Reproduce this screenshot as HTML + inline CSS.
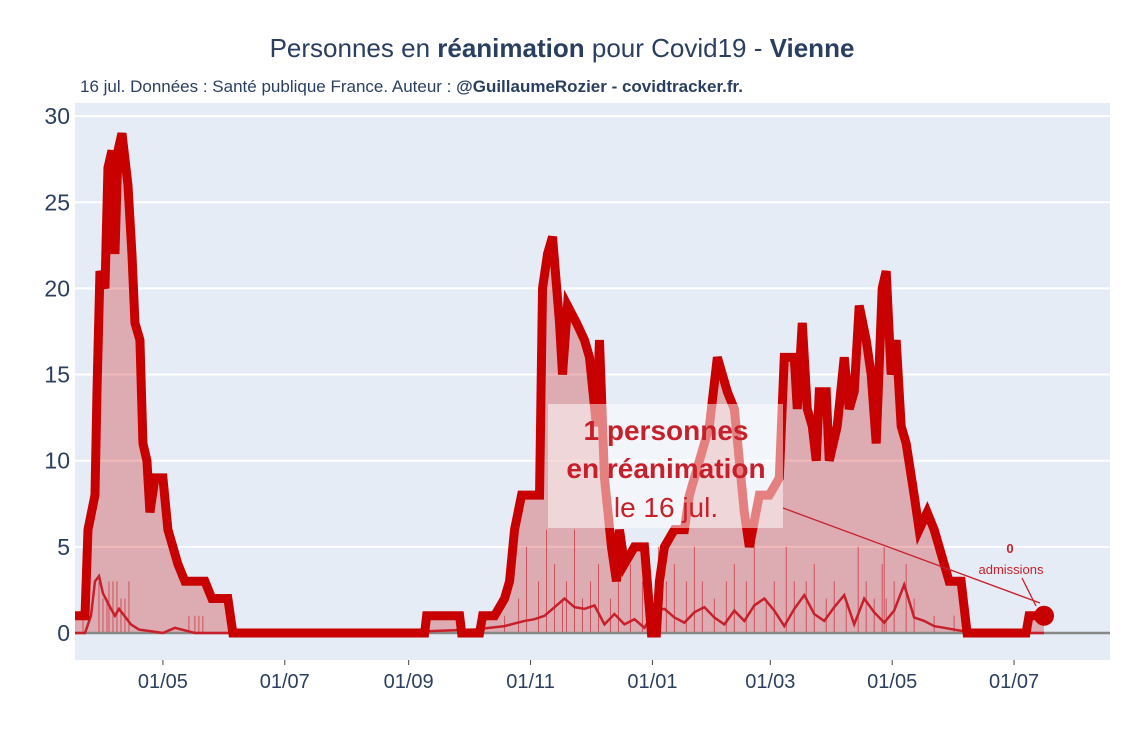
<!DOCTYPE html>
<html><head><meta charset="utf-8"><style>
body{margin:0;background:#fff;width:1125px;height:750px;overflow:hidden;font-family:"Liberation Sans",sans-serif}
svg text{font-family:"Liberation Sans","DejaVu Sans",sans-serif}
</style></head><body>
<svg id="chart" width="1125" height="750" xmlns="http://www.w3.org/2000/svg">
<rect x="75" y="103" width="1035" height="557" fill="#e5ecf6"/>
<g id="grid"></g>
<g id="series"></g>
<g id="axes"></g>
<text x="562" y="57" text-anchor="middle" font-size="26" fill="#2a3f5f">Personnes en <tspan font-weight="bold">réanimation</tspan> pour Covid19 - <tspan font-weight="bold">Vienne</tspan></text>
<text x="80" y="92" font-size="17" fill="#2a3f5f">16 jul. Données : Santé publique France. Auteur : <tspan font-weight="bold">@GuillaumeRozier - covidtracker.fr.</tspan></text>
</svg>
<script>
const days=[
0,5,6.5,10,11,12.5,15,16.5,18.5,20,21.5,23.5,26.5,28.5,30,32.5,34,36,37.5,40,44,46.5,49,51.5,55,65,68.5,76.5,79,
175,176,192.5,193.5,202.5,204,210,215,217.5,220,223.5,232.5,234,236.5,239,242.5,244,246.5,251,255,257.5,261,262.5,265,268.5,271,272.5,275,280,285,288.5,291,
292.5,295,300,305,307.5,312.5,317.5,321.5,326.5,330,332.5,335,337.5,342.5,347.5,352.5,355,360,361.5,364,366.5,369,371,372.5,376,377.5,381.5,385,387.5,390,392.5,396,398.5,401,404,406,408.5,411,413.5,416,420,422.5,426.5,430,437.5,443.5,446.5,476,477.5,485];
const icu=[
1,1,6,8,14,21,20,27,28,22,28,29,26,22,18,17,11,10,7,9,9,6,5,4,3,3,2,2,0,
0,1,1,0,0,1,1,2,3,6,8,8,20,22,23,18,15,19,18,17,16,12,17,9,5,3,6,4,5,5,0,0,
3,5,6,6,8,10,12,16,14,13,10,7,5,8,8,9,16,16,13,18,13,12,10,14,14,10,12,16,13,14,19,17,15,11,20,21,15,17,12,11,8,6,7,6,3,3,0,0,1,1];
const admDays=[0,5,8,10,12,14,18,20,22,24,28,32,38,44,50,60,100,176,200,215,225,230,235,240,245,250,255,260,265,270,275,280,285,290,295,300,305,310,315,320,325,330,335,340,345,350,355,360,365,370,375,380,385,390,395,400,405,410,415,420,425,430,440,450,485];
const admVals=[0,0,1,3,3.3,2.3,1.4,1,1.4,1.1,0.5,0.2,0.1,0,0.3,0,0,0.1,0.2,0.4,0.7,0.8,1,1.5,2,1.5,1.4,1.6,0.5,1.1,0.5,0.8,0.3,1.3,1.4,0.9,0.6,1.2,1.5,0.9,0.5,1.3,0.7,1.6,2,1.3,0.4,1.4,2.2,1.1,0.7,1.5,2.2,0.5,2,1.2,0.6,1.3,2.8,0.9,0.7,0.4,0.2,0,0];
const barDays=[4,12,14,16,17,19,21,23,25,27,57,60,62,64,215,222,226,232,236,240,244,246,250,254,258,262,268,272,278,284,292,296,300,306,310,314,320,326,330,336,340,346,350,356,360,366,370,376,380,386,392,396,400,404,405,406,410,416,420,430,440,445];
const barVals=[2,3,2,2,3,3,3,2,2,3,1,1,1,1,1,2,5,3,6,4,2,3,6,2,3,4,2,3,4,3,5,3,4,3,5,3,2,3,4,3,6,2,3,5,3,3,4,2,3,2,5,3,2,4,5,2,3,4,2,1,1,1];
const yTicks=[0,5,10,15,20,25,30];
const xTickDays=[44,105,167,228,289,348,409,470];
const xTickLabels=["01/05","01/07","01/09","01/11","01/01","01/03","01/05","01/07"];
const X=d=>75+d*1.998, Y=v=>633-v*17.23;
const NS="http://www.w3.org/2000/svg";
function mk(p,t,a){const e=document.createElementNS(NS,t);for(const k in a)e.setAttribute(k,a[k]);p.appendChild(e);return e;}
const grid=document.getElementById('grid'),ser=document.getElementById('series'),ax=document.getElementById('axes'),svg=document.getElementById('chart');
yTicks.forEach(v=>{
 if(v>0){const g=mk(grid,'line',{x1:75,x2:1110,y1:Y(v),y2:Y(v),stroke:'#fff','stroke-width':2});
 
 }
 const t=mk(ax,'text',{x:70,y:Y(v)+8,'text-anchor':'end','font-size':23,fill:'#2a3f5f'});t.textContent=v;
 
 
});
xTickDays.forEach((d,i)=>{
 const l=mk(ax,'line',{x1:X(d),x2:X(d),y1:660,y2:665,stroke:'#444','stroke-width':1});
 
 
 const t=mk(ax,'text',{x:X(d),y:688,'text-anchor':'middle','font-size':20,fill:'#2a3f5f'});t.textContent=xTickLabels[i];
 
 
});
const n=Math.min(days.length,icu.length);
let pts=[];for(let i=0;i<n;i++)pts.push(X(days[i])+','+Y(icu[i]));
const area=mk(ser,'polygon',{points:X(days[0])+','+Y(0)+' '+pts.join(' ')+' '+X(days[n-1])+','+Y(0),fill:'rgba(200,0,0,0.27)'});


barDays.forEach((d,i)=>{const b=mk(ser,'line',{x1:X(d),x2:X(d),y1:Y(0),y2:Y(barVals[i]),stroke:'rgba(200,20,30,0.6)','stroke-width':1});
 
 });
const zl=mk(ser,'line',{x1:75,x2:1110,y1:Y(0),y2:Y(0),stroke:'#888','stroke-width':2.5});


const adm=mk(ser,'polyline',{points:admDays.map((d,i)=>X(d)+','+Y(admVals[i])).join(' '),fill:'none',stroke:'#c8202a','stroke-width':2.5});


const ln=mk(ser,'polyline',{points:pts.join(' '),fill:'none',stroke:'#c80000','stroke-width':9,'stroke-linejoin':'miter'});


const dot=mk(ser,'circle',{cx:X(days[n-1]),cy:Y(icu[n-1]),r:10,fill:'#c80000'});


const box=mk(svg,'rect',{x:548,y:404,width:235,height:124,fill:'rgba(255,255,255,0.5)'});


const ar=mk(svg,'line',{x1:783,y1:508,x2:1040,y2:603,stroke:'#c8202a','stroke-width':1.3});


const ar2=mk(svg,'line',{x1:1022,y1:578,x2:1036,y2:606,stroke:'#c8202a','stroke-width':1.3});


[["1 personnes",440,'bold','annotation-line-1'],["en réanimation",478,'bold','annotation-line-2'],["le 16 jul.",517,'normal','annotation-line-3']].forEach(a=>{
 const t=mk(svg,'text',{x:666,y:a[1],'text-anchor':'middle','font-size':28,'font-weight':a[2],fill:'#c8202a'});t.textContent=a[0];
 
 
});
const a0=mk(svg,'text',{x:1010,y:553,'text-anchor':'middle','font-size':13,'font-weight':'bold',fill:'#c8202a'});a0.textContent='0';


const a1=mk(svg,'text',{x:1011,y:574,'text-anchor':'middle','font-size':13,fill:'#c8202a'});a1.textContent='admissions';


</script>
</body></html>
